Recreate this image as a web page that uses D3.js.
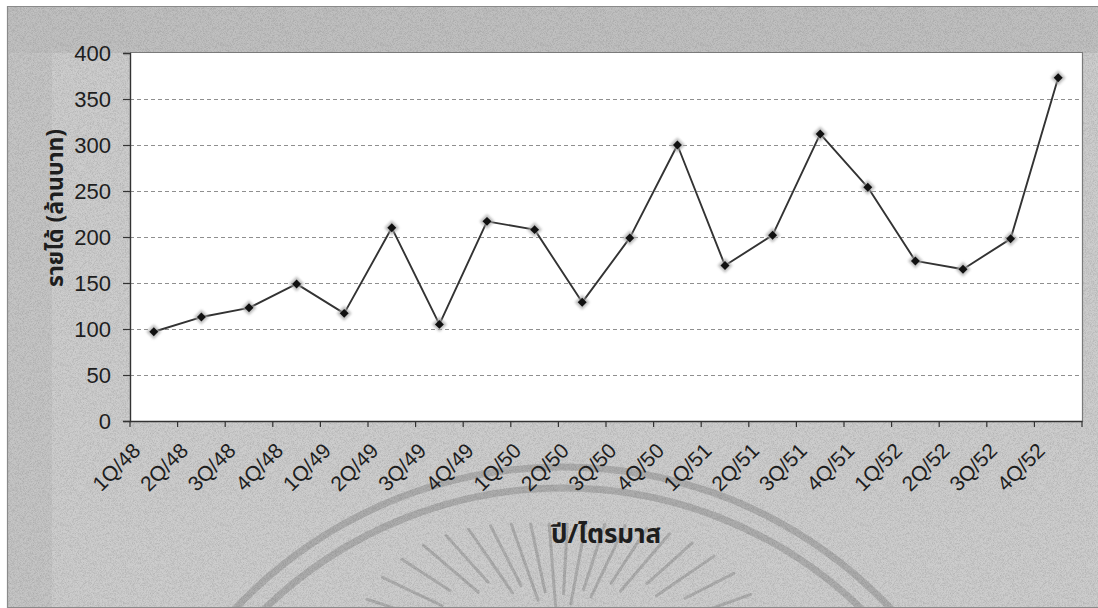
<!DOCTYPE html>
<html>
<head>
<meta charset="utf-8">
<script src="https://cdn.jsdelivr.net/npm/d3@7"></script>
<style>
  html, body { margin: 0; padding: 0; background: #ffffff; }
  svg { display: block; }
  .tick text { font-family: "Liberation Sans", Arial, sans-serif; }
</style>
</head>
<body>
<svg id="chart" width="1098" height="608"></svg>
<script>
// Quarterly revenue (million baht), fiscal quarters 1Q/48 – 4Q/52
const categories = [
  "1Q/48", "2Q/48", "3Q/48", "4Q/48",
  "1Q/49", "2Q/49", "3Q/49", "4Q/49",
  "1Q/50", "2Q/50", "3Q/50", "4Q/50",
  "1Q/51", "2Q/51", "3Q/51", "4Q/51",
  "1Q/52", "2Q/52", "3Q/52", "4Q/52"
];
const revenue = [
  97, 113, 123, 149,
  117, 210, 105, 217,
  208, 129, 199, 300,
  169, 202, 312, 254,
  174, 165, 198, 373
];
const yTicks = [0, 50, 100, 150, 200, 250, 300, 350, 400];
const yTitle = "รายได้ (ล้านบาท)";
const xTitle = "ปี/ไตรมาส";

const frame = { x0: 7, y0: 6, x1: 1098, y1: 607 };
const plot = { left: 130, right: 1082, top: 53, bottom: 421 };

const svg = d3.select("#chart");
const defs = svg.append("defs");

// fine grain for the grey panel
const grain = defs.append("filter").attr("id", "grain")
  .attr("x", 0).attr("y", 0).attr("width", "100%").attr("height", "100%");
grain.append("feTurbulence").attr("type", "fractalNoise")
  .attr("baseFrequency", 1.6).attr("numOctaves", 1).attr("seed", 4).attr("result", "n");
grain.append("feColorMatrix").attr("type", "matrix")
  .attr("values", "0 0 0 0 0  0 0 0 0 0  0 0 0 0 0  0 0 0 -1.4 0.85");

defs.append("clipPath").attr("id", "frameClip")
  .append("rect").attr("x", frame.x0).attr("y", frame.y0)
  .attr("width", frame.x1 - frame.x0).attr("height", frame.y1 - frame.y0);

const haloBlur = defs.append("filter").attr("id", "halo")
  .attr("x", "-50%").attr("y", "-50%").attr("width", "200%").attr("height", "200%");
haloBlur.append("feGaussianBlur").attr("stdDeviation", 0.9);

// grey panel
const panel = svg.append("g").attr("clip-path", "url(#frameClip)");
panel.append("rect").attr("x", frame.x0).attr("y", frame.y0)
  .attr("width", frame.x1 - frame.x0).attr("height", frame.y1 - frame.y0)
  .attr("fill", "#cdcdcd");
panel.append("rect").attr("x", frame.x0).attr("y", frame.y0)
  .attr("width", frame.x1 - frame.x0).attr("height", plot.top - frame.y0)
  .attr("fill", "#b7b7b7").attr("opacity", 0.6);
panel.append("rect").attr("x", frame.x0).attr("y", plot.top)
  .attr("width", 45).attr("height", frame.y1 - plot.top)
  .attr("fill", "#bdbdbd").attr("opacity", 0.45);

// emblem in the lower panel: double ring and rays
const ringC = { x: 563, y: 917 };
[450, 429].forEach(r => {
  panel.append("circle").attr("cx", ringC.x).attr("cy", ringC.y).attr("r", r)
    .attr("fill", "none").attr("stroke", "#adadad").attr("stroke-width", 7);
});
const rayC = { x: 560, y: 662 };
const rayAngles = d3.range(198, 343, 7.5);
panel.selectAll("line.ray").data(rayAngles).join("line")
  .attr("class", "ray")
  .each(function (a) {
    const rad = a * Math.PI / 180;
    const elev = Math.abs(Math.sin(rad));
    const rOut = 210 - 72 * elev * elev;
    const rIn = rOut - (42 + 28 * elev) - ((Math.round(a / 7.5) % 2) ? 12 : 0);
    d3.select(this)
      .attr("x1", rayC.x + rOut * Math.cos(rad)).attr("y1", rayC.y + rOut * Math.sin(rad))
      .attr("x2", rayC.x + rIn * Math.cos(rad)).attr("y2", rayC.y + rIn * Math.sin(rad));
  })
  .attr("stroke", "#adadad").attr("stroke-width", 3).attr("stroke-linecap", "round");

panel.append("rect").attr("x", frame.x0).attr("y", frame.y0)
  .attr("width", frame.x1 - frame.x0).attr("height", frame.y1 - frame.y0)
  .attr("filter", "url(#grain)").attr("opacity", 0.22);

// panel border
svg.append("path")
  .attr("d", `M${frame.x1},${frame.y0 + 0.5}H${frame.x0 + 0.5}V${frame.y1 + 0.5}H${frame.x1}`)
  .attr("fill", "none").attr("stroke", "#8a8a8a").attr("stroke-width", 1.2);

// scales
const x = d3.scaleBand().domain(categories).range([plot.left, plot.right]);
const y = d3.scaleLinear().domain([0, 400]).range([plot.bottom, plot.top]);
const cx = c => x(c) + x.bandwidth() / 2;

// plot area
svg.append("rect").attr("x", plot.left).attr("y", plot.top)
  .attr("width", plot.right - plot.left).attr("height", plot.bottom - plot.top)
  .attr("fill", "#ffffff");

// dashed gridlines
svg.append("g").selectAll("line")
  .data(yTicks.filter(v => v > 0 && v < 400)).join("line")
  .attr("x1", plot.left).attr("x2", plot.right)
  .attr("y1", d => Math.round(y(d)) + 0.5).attr("y2", d => Math.round(y(d)) + 0.5)
  .attr("stroke", "#8f8f8f").attr("stroke-width", 1).attr("stroke-dasharray", "4,3");

// top and right edges of the plot area
svg.append("path")
  .attr("d", `M${plot.left},${plot.top - 0.5}H${plot.right + 0.5}V${plot.bottom}`)
  .attr("fill", "none").attr("stroke", "#7a7a7a").attr("stroke-width", 1.2);

// y axis
const yAxis = svg.append("g").attr("transform", `translate(${plot.left},0)`)
  .call(d3.axisLeft(y).tickValues(yTicks).tickSize(7).tickPadding(12).tickFormat(d3.format("d")));
yAxis.select(".domain").attr("stroke", "#333").attr("stroke-width", 1.4);
yAxis.selectAll(".tick line").attr("stroke", "#333").attr("stroke-width", 1.2);
yAxis.selectAll(".tick text").attr("font-size", 22).attr("fill", "#1e1e1e");

// x axis: ticks on category boundaries, rotated labels
const xAxis = svg.append("g").attr("transform", `translate(0,${plot.bottom})`)
  .call(d3.axisBottom(x).tickSize(0).tickPadding(0));
xAxis.select(".domain").attr("stroke", "#333").attr("stroke-width", 1.4);
xAxis.selectAll(".tick text")
  .attr("font-size", 21).attr("fill", "#1e1e1e")
  .attr("text-anchor", "end").attr("dy", 0)
  .attr("transform", "translate(-12,31) rotate(-45)");
const boundaries = categories.map(c => x(c)).concat([plot.right]);
xAxis.append("g").selectAll("line").data(boundaries).join("line")
  .attr("x1", d => d).attr("x2", d => d).attr("y1", 0).attr("y2", 6)
  .attr("stroke", "#333").attr("stroke-width", 1.2);

// axis titles
svg.append("text")
  .attr("transform", `translate(63,208) rotate(-90)`)
  .attr("text-anchor", "middle")
  .attr("font-family", "'Noto Sans Thai', Tahoma, 'DejaVu Sans', sans-serif")
  .attr("font-weight", "bold").attr("font-size", 23).attr("fill", "#1e1e1e")
  .text(yTitle);
svg.append("text")
  .attr("x", (plot.left + plot.right) / 2).attr("y", 543)
  .attr("text-anchor", "middle")
  .attr("font-family", "'Noto Sans Thai', Tahoma, 'DejaVu Sans', sans-serif")
  .attr("font-weight", "bold").attr("font-size", 26).attr("fill", "#1e1e1e")
  .text(xTitle);

// revenue line
const line = d3.line().x((d, i) => cx(categories[i])).y(d => y(d));
svg.append("path").datum(revenue)
  .attr("d", line).attr("fill", "none")
  .attr("stroke", "#333333").attr("stroke-width", 1.9).attr("stroke-linejoin", "round");

// diamond markers with a soft grey halo
const halo = d3.symbol(d3.symbolSquare, 110);
const mark = d3.symbol(d3.symbolSquare, 40);
const pts = svg.append("g");
pts.selectAll("path.halo").data(revenue).join("path")
  .attr("class", "halo")
  .attr("d", halo)
  .attr("transform", (d, i) => `translate(${cx(categories[i])},${y(d)}) rotate(45)`)
  .attr("fill", "#a8a8a8").attr("opacity", 0.75).attr("filter", "url(#halo)");
pts.selectAll("path.mark").data(revenue).join("path")
  .attr("class", "mark")
  .attr("d", mark)
  .attr("transform", (d, i) => `translate(${cx(categories[i])},${y(d)}) rotate(45)`)
  .attr("fill", "#111111");
</script>
</body>
</html>
